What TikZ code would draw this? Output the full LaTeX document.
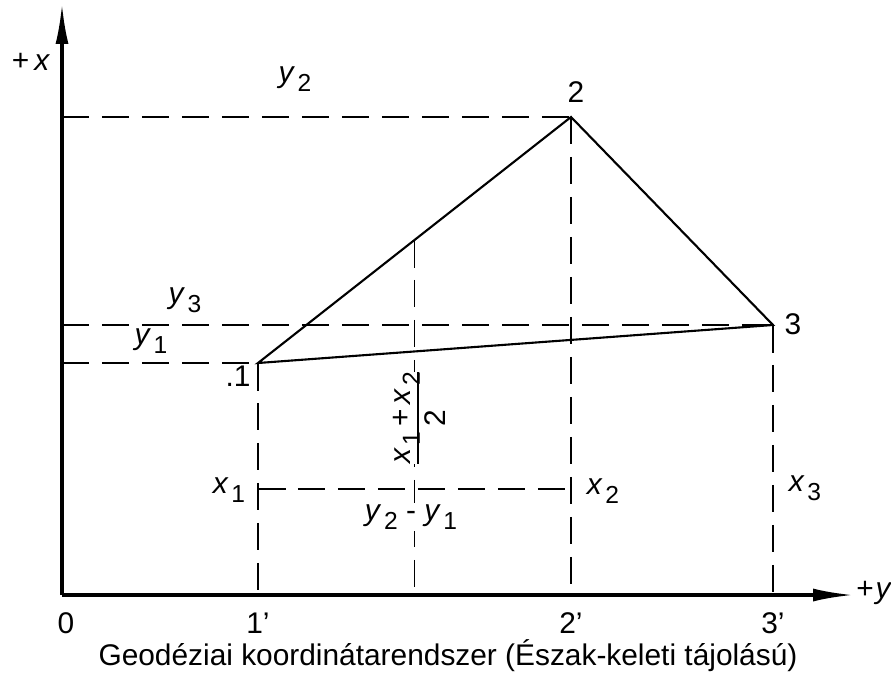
\documentclass[tikz,border=0pt]{standalone}
\usepackage{fontspec}
\setmainfont{Liberation Sans}
\usetikzlibrary{arrows.meta,calc}
\newcommand{\ix}[2]{\textit{#1}\kern1.5pt\raisebox{-0.6ex}{\fontsize{14}{14}\selectfont #2}}
\setlength{\arrayrulewidth}{1.1pt}
\tikzset{
  >={Latex[length=8mm,width=2.6mm]},
  axis/.style={->,line width=1.8pt},
  side/.style={line width=1.2pt,line join=miter},
  proj/.style={line width=0.8pt,dash pattern=on 5.5mm off 2.5mm},
  lbl/.style={inner sep=1pt},
  masklbl/.style={fill=white,inner sep=1pt},
}
\begin{document}
\begin{tikzpicture}[x=0.02cm,y=-0.02cm,every node/.style={font=\fontsize{17}{20}\selectfont}]
  \useasboundingbox (0,0) rectangle (891,676);
  % corner points and axes
  \coordinate (O) at (62,595);
  \coordinate (xtip) at (62,4);
  \coordinate (ytip) at (853,595);
  \coordinate (P1) at (258,363);
  \coordinate (P2) at (571,117);
  \coordinate (P3) at (773,325);
  \coordinate (M) at ($(P1)!0.5!(P2)$);
  \coordinate (Q1) at (258,489);
  \coordinate (Q2) at (571,489);
  % projections
  \draw[proj] (P2 -| O) -- (P2);
  \draw[proj] (P3 -| O) -- (P3);
  \draw[proj] (P1 -| O) -- (P1);
  \draw[proj] (P1) -- (P1 |- O);
  \draw[proj] (P2) -- (P2 |- O);
  \draw[proj] (P3) -- (P3 |- O);
  \draw[proj] (M) -- (M |- O);
  \draw[proj] (Q1) -- (Q2);
  \draw[axis] (O) -- (xtip);
  \draw[axis] (O) -- (ytip);
  \draw[side] (P1) -- (P2) -- (P3) -- cycle;
  % labels
  \node[lbl] (xlab) at (31,62) {+\,\textit{x}};
  \node[anchor=west,inner sep=0pt] (ylab) at (856,593) {+\kern1pt\textit{y}};
  \node[lbl] (zero) at (66,623) {0};
  \node[lbl] (n1) at (238,376) {.1};
  \node[lbl] (n2) at (576,92) {2};
  \node[lbl] (n3) at (793,324) {3};
  \node[lbl] (p1) at (258,623) {1'};
  \node[lbl] (p2) at (571,623) {2'};
  \node[lbl] (p3) at (773,623) {3'};
  \node[lbl] (ly2) at (295,79) {\ix{y}{2}};
  \node[lbl] (ly3) at (185,300) {\ix{y}{3}};
  \node[lbl] (ly1) at (151,341) {\ix{y}{1}};
  \node[lbl] (lx1) at (229,490) {\ix{x}{1}};
  \node[lbl] (lx2) at (603,491) {\ix{x}{2}};
  \node[lbl] (lx3) at (805,488) {\ix{x}{3}};
  \node[masklbl] (dy) at (411,517) {\ix{y}{2} - \ix{y}{1}};
  \node[masklbl,rotate=90,inner sep=0pt] (half) at (421,418)
    {\begin{tabular}{@{}c@{}}\ix{x}{1}\,+\,\ix{x}{2}\\[-2pt]\hline\rule{0pt}{15pt}2\end{tabular}};
  \node[lbl] (cap) at (448,656) {Geodéziai koordinátarendszer (Észak-keleti tájolású)};
\end{tikzpicture}
\end{document}
